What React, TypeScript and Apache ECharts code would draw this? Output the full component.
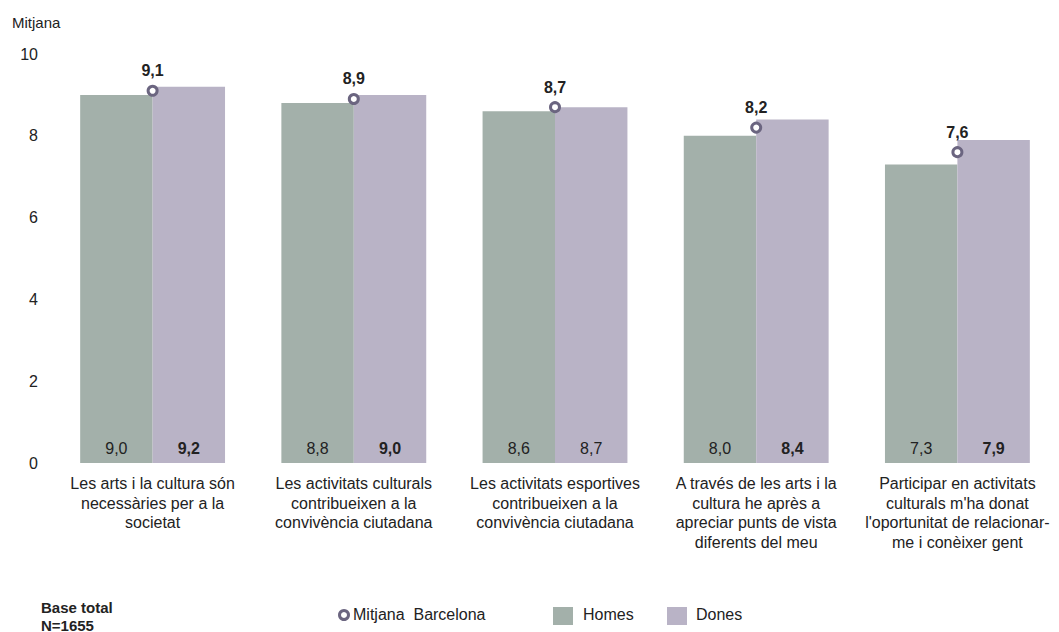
import React, { useEffect, useRef } from "react";
import * as echarts from "echarts";

const categories = [
  "Les arts i la cultura són\nnecessàries per a la\nsocietat",
  "Les activitats culturals\ncontribueixen a la\nconvivència ciutadana",
  "Les activitats esportives\ncontribueixen a la\nconvivència ciutadana",
  "A través de les arts i la\ncultura he après a\napreciar punts de vista\ndiferents del meu",
  "Participar en activitats\nculturals m'ha donat\nl'oportunitat de relacionar-\nme i conèixer gent",
];
const homes = [9.0, 8.8, 8.6, 8.0, 7.3];
const dones = [9.2, 9.0, 8.7, 8.4, 7.9];
const homesBold = [false, false, false, false, false];
const donesBold = [true, true, false, true, true];
const mitjana = [9.1, 8.9, 8.7, 8.2, 7.6];
const yTicks = { min: 0, max: 10, interval: 2 };

const HOMES_COLOR = "#a3b0aa";
const DONES_COLOR = "#b9b3c6";
const MARK_COLOR = "#6b6580";
const FONT = "'Liberation Sans', Arial, sans-serif";

const fmt = (v: number) => v.toFixed(1).replace(".", ",");

export default function App() {
  const ref = useRef<HTMLDivElement>(null);
  useEffect(() => {
    document.body.style.margin = "0";
    const chart = echarts.init(ref.current!, null, { renderer: "svg" });
    const barLabel = (bold: boolean) => ({
      show: true,
      position: "insideBottom",
      distance: 7,
      fontFamily: FONT,
      fontSize: 16,
      color: "#222",
      fontWeight: bold ? "bold" : "normal",
      formatter: (p: any) => fmt(p.value),
    });
    chart.setOption({
      animation: false,
      textStyle: { fontFamily: FONT },
      grid: { left: 52, right: 1, top: 54, bottom: 169 },
      xAxis: {
        type: "category",
        data: categories,
        axisLine: { show: false },
        axisTick: { show: false },
        axisLabel: {
          interval: 0,
          margin: 11,
          fontFamily: FONT,
          fontSize: 16,
          lineHeight: 19.5,
          color: "#222",
          align: "center",
        },
      },
      yAxis: {
        type: "value",
        min: yTicks.min,
        max: yTicks.max,
        interval: yTicks.interval,
        name: "Mitjana",
        nameLocation: "end",
        nameGap: 0,
        nameTextStyle: {
          fontFamily: FONT,
          fontSize: 15,
          color: "#222",
          align: "left",
          padding: [0, 0, 24, -40],
        },
        axisLine: { show: false },
        axisTick: { show: false },
        splitLine: { show: false },
        axisLabel: { fontFamily: FONT, fontSize: 16, color: "#222", margin: 14 },
      },
      series: [
        {
          name: "Homes",
          type: "bar",
          barGap: "0%",
          barCategoryGap: "28%",
          itemStyle: { color: HOMES_COLOR },
          data: homes.map((v, i) => ({ value: v, label: barLabel(homesBold[i]) })),
        },
        {
          name: "Dones",
          type: "bar",
          itemStyle: { color: DONES_COLOR },
          data: dones.map((v, i) => ({ value: v, label: barLabel(donesBold[i]) })),
        },
        {
          name: "Mitjana Barcelona",
          type: "scatter",
          symbol: "circle",
          symbolSize: 9,
          z: 5,
          itemStyle: { color: "#ffffff", borderColor: MARK_COLOR, borderWidth: 3, opacity: 1 },
          label: {
            show: true,
            position: "top",
            distance: 6,
            fontFamily: FONT,
            fontSize: 16,
            fontWeight: "bold",
            color: "#222",
            formatter: (p: any) => fmt(p.value),
          },
          data: mitjana,
        },
      ],
      graphic: [
        {
          type: "text",
          left: 41,
          top: 598,
          style: { text: "Base total\nN=1655", font: `bold 15px ${FONT}`, fill: "#222", lineHeight: 18 },
        },
        {
          type: "circle",
          shape: { cx: 344, cy: 615, r: 4.5 },
          style: { fill: "#fff", stroke: MARK_COLOR, lineWidth: 3 },
        },
        {
          type: "text",
          left: 353,
          top: 606,
          style: { text: "Mitjana  Barcelona", font: `16px ${FONT}`, fill: "#222" },
        },
        {
          type: "rect",
          shape: { x: 553, y: 607, width: 20, height: 18 },
          style: { fill: HOMES_COLOR },
        },
        {
          type: "text",
          left: 583,
          top: 606,
          style: { text: "Homes", font: `16px ${FONT}`, fill: "#222" },
        },
        {
          type: "rect",
          shape: { x: 667, y: 607, width: 20, height: 18 },
          style: { fill: DONES_COLOR },
        },
        {
          type: "text",
          left: 696,
          top: 606,
          style: { text: "Dones", font: `16px ${FONT}`, fill: "#222" },
        },
      ],
    });
    return () => chart.dispose();
  }, []);
  return <div ref={ref} style={{ width: 1059, height: 632 }} />;
}
